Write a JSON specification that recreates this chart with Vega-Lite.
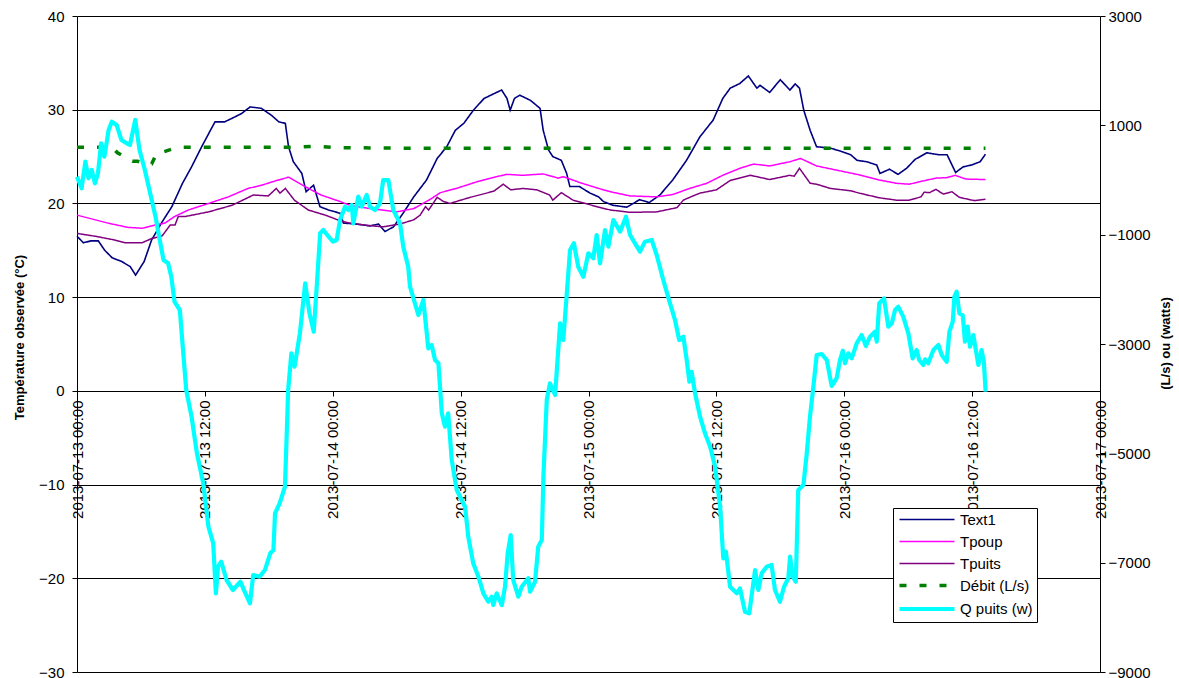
{
"$schema": "https://vega.github.io/schema/vega-lite/v6.json",
"width": 1023, "height": 656,
"autosize": {"type": "none"},
"padding": {"left": 77, "top": 16, "right": 79, "bottom": 6},
"background": "white",
"config": {"view": {"stroke": null}, "font": "Liberation Sans",
  "axis": {"labelFont": "Liberation Sans", "titleFont": "Liberation Sans", "labelColor": "#000", "titleColor": "#000", "domainColor": "#000", "tickColor": "#000", "labelFontSize": 15, "titleFontSize": 13, "titleFontWeight": "bold", "tickSize": 5},
  "legend": {"labelFont": "Liberation Sans", "labelFontSize": 15, "labelColor": "#000"}},
"datasets": {
"temp": [
{"t":"2013-07-13T00:00","s":"Text1","v":16.5},{"t":"2013-07-13T00:36","s":"Text1","v":15.8},{"t":"2013-07-13T01:18","s":"Text1","v":16.0},{"t":"2013-07-13T02:00","s":"Text1","v":16.0},{"t":"2013-07-13T02:36","s":"Text1","v":15.0},{"t":"2013-07-13T03:18","s":"Text1","v":14.2},{"t":"2013-07-13T04:12","s":"Text1","v":13.8},{"t":"2013-07-13T05:00","s":"Text1","v":13.25},{"t":"2013-07-13T05:30","s":"Text1","v":12.35},{"t":"2013-07-13T06:18","s":"Text1","v":13.8},{"t":"2013-07-13T07:00","s":"Text1","v":16.1},{"t":"2013-07-13T08:00","s":"Text1","v":18.05},{"t":"2013-07-13T08:54","s":"Text1","v":19.65},{"t":"2013-07-13T09:54","s":"Text1","v":22.15},{"t":"2013-07-13T10:45","s":"Text1","v":23.9},{"t":"2013-07-13T11:42","s":"Text1","v":26.05},{"t":"2013-07-13T12:27","s":"Text1","v":27.65},{"t":"2013-07-13T12:57","s":"Text1","v":28.7},{"t":"2013-07-13T13:51","s":"Text1","v":28.7},{"t":"2013-07-13T14:51","s":"Text1","v":29.25},{"t":"2013-07-13T15:27","s":"Text1","v":29.6},{"t":"2013-07-13T16:15","s":"Text1","v":30.3},{"t":"2013-07-13T17:18","s":"Text1","v":30.15},{"t":"2013-07-13T18:15","s":"Text1","v":29.4},{"t":"2013-07-13T18:57","s":"Text1","v":28.7},{"t":"2013-07-13T19:33","s":"Text1","v":28.55},{"t":"2013-07-13T19:51","s":"Text1","v":26.05},{"t":"2013-07-13T20:18","s":"Text1","v":24.45},{"t":"2013-07-13T21:06","s":"Text1","v":23.2},{"t":"2013-07-13T21:30","s":"Text1","v":21.25},{"t":"2013-07-13T22:12","s":"Text1","v":21.95},{"t":"2013-07-13T22:48","s":"Text1","v":19.65},{"t":"2013-07-13T23:36","s":"Text1","v":19.3},{"t":"2013-07-14T00:42","s":"Text1","v":18.95},{"t":"2013-07-14T01:00","s":"Text1","v":17.9},{"t":"2013-07-14T02:12","s":"Text1","v":17.8},{"t":"2013-07-14T03:30","s":"Text1","v":17.6},{"t":"2013-07-14T04:18","s":"Text1","v":17.8},{"t":"2013-07-14T04:54","s":"Text1","v":17.0},{"t":"2013-07-14T05:42","s":"Text1","v":17.5},{"t":"2013-07-14T06:36","s":"Text1","v":18.95},{"t":"2013-07-14T07:36","s":"Text1","v":20.7},{"t":"2013-07-14T08:48","s":"Text1","v":22.5},{"t":"2013-07-14T09:48","s":"Text1","v":24.8},{"t":"2013-07-14T10:42","s":"Text1","v":26.05},{"t":"2013-07-14T11:30","s":"Text1","v":27.8},{"t":"2013-07-14T12:18","s":"Text1","v":28.55},{"t":"2013-07-14T13:12","s":"Text1","v":29.95},{"t":"2013-07-14T14:12","s":"Text1","v":31.2},{"t":"2013-07-14T15:06","s":"Text1","v":31.7},{"t":"2013-07-14T15:51","s":"Text1","v":32.1},{"t":"2013-07-14T16:21","s":"Text1","v":31.2},{"t":"2013-07-14T16:39","s":"Text1","v":29.95},{"t":"2013-07-14T17:03","s":"Text1","v":31.2},{"t":"2013-07-14T17:33","s":"Text1","v":31.55},{"t":"2013-07-14T18:33","s":"Text1","v":31.0},{"t":"2013-07-14T19:27","s":"Text1","v":30.15},{"t":"2013-07-14T19:45","s":"Text1","v":27.8},{"t":"2013-07-14T20:15","s":"Text1","v":25.7},{"t":"2013-07-14T20:39","s":"Text1","v":25.0},{"t":"2013-07-14T21:27","s":"Text1","v":24.6},{"t":"2013-07-14T21:57","s":"Text1","v":23.2},{"t":"2013-07-14T22:15","s":"Text1","v":21.8},{"t":"2013-07-14T23:09","s":"Text1","v":21.8},{"t":"2013-07-15T00:09","s":"Text1","v":21.1},{"t":"2013-07-15T00:57","s":"Text1","v":20.7},{"t":"2013-07-15T01:24","s":"Text1","v":20.2},{"t":"2013-07-15T02:18","s":"Text1","v":19.8},{"t":"2013-07-15T03:36","s":"Text1","v":19.6},{"t":"2013-07-15T04:48","s":"Text1","v":20.4},{"t":"2013-07-15T05:42","s":"Text1","v":20.1},{"t":"2013-07-15T06:42","s":"Text1","v":20.9},{"t":"2013-07-15T07:54","s":"Text1","v":22.5},{"t":"2013-07-15T09:12","s":"Text1","v":24.6},{"t":"2013-07-15T10:27","s":"Text1","v":27.1},{"t":"2013-07-15T11:42","s":"Text1","v":28.9},{"t":"2013-07-15T12:36","s":"Text1","v":31.2},{"t":"2013-07-15T13:18","s":"Text1","v":32.3},{"t":"2013-07-15T14:12","s":"Text1","v":32.8},{"t":"2013-07-15T15:00","s":"Text1","v":33.6},{"t":"2013-07-15T15:48","s":"Text1","v":32.3},{"t":"2013-07-15T16:06","s":"Text1","v":32.6},{"t":"2013-07-15T17:00","s":"Text1","v":31.85},{"t":"2013-07-15T18:00","s":"Text1","v":33.2},{"t":"2013-07-15T18:54","s":"Text1","v":32.1},{"t":"2013-07-15T19:24","s":"Text1","v":32.75},{"t":"2013-07-15T19:48","s":"Text1","v":32.3},{"t":"2013-07-15T20:12","s":"Text1","v":29.95},{"t":"2013-07-15T20:48","s":"Text1","v":27.8},{"t":"2013-07-15T21:24","s":"Text1","v":26.05},{"t":"2013-07-15T22:42","s":"Text1","v":25.9},{"t":"2013-07-15T23:36","s":"Text1","v":25.6},{"t":"2013-07-16T00:36","s":"Text1","v":25.2},{"t":"2013-07-16T01:12","s":"Text1","v":24.6},{"t":"2013-07-16T02:06","s":"Text1","v":24.45},{"t":"2013-07-16T03:03","s":"Text1","v":24.1},{"t":"2013-07-16T03:21","s":"Text1","v":23.2},{"t":"2013-07-16T04:15","s":"Text1","v":23.65},{"t":"2013-07-16T05:03","s":"Text1","v":23.1},{"t":"2013-07-16T05:51","s":"Text1","v":23.75},{"t":"2013-07-16T06:39","s":"Text1","v":24.7},{"t":"2013-07-16T07:45","s":"Text1","v":25.4},{"t":"2013-07-16T08:51","s":"Text1","v":25.2},{"t":"2013-07-16T09:39","s":"Text1","v":25.2},{"t":"2013-07-16T10:27","s":"Text1","v":23.3},{"t":"2013-07-16T11:09","s":"Text1","v":23.9},{"t":"2013-07-16T11:57","s":"Text1","v":24.1},{"t":"2013-07-16T12:45","s":"Text1","v":24.45},{"t":"2013-07-16T13:15","s":"Text1","v":25.25},
{"t":"2013-07-13T00:00","s":"Tpoup","v":18.75},{"t":"2013-07-13T02:54","s":"Tpoup","v":17.9},{"t":"2013-07-13T04:45","s":"Tpoup","v":17.45},{"t":"2013-07-13T06:06","s":"Tpoup","v":17.35},{"t":"2013-07-13T07:21","s":"Tpoup","v":17.7},{"t":"2013-07-13T08:15","s":"Tpoup","v":17.9},{"t":"2013-07-13T09:09","s":"Tpoup","v":18.6},{"t":"2013-07-13T10:27","s":"Tpoup","v":19.3},{"t":"2013-07-13T12:21","s":"Tpoup","v":20.0},{"t":"2013-07-13T14:12","s":"Tpoup","v":20.7},{"t":"2013-07-13T16:03","s":"Tpoup","v":21.6},{"t":"2013-07-13T17:21","s":"Tpoup","v":21.95},{"t":"2013-07-13T18:36","s":"Tpoup","v":22.4},{"t":"2013-07-13T19:51","s":"Tpoup","v":22.8},{"t":"2013-07-13T21:24","s":"Tpoup","v":21.8},{"t":"2013-07-13T22:54","s":"Tpoup","v":20.9},{"t":"2013-07-14T00:42","s":"Tpoup","v":20.2},{"t":"2013-07-14T01:36","s":"Tpoup","v":19.8},{"t":"2013-07-14T03:30","s":"Tpoup","v":19.45},{"t":"2013-07-14T06:00","s":"Tpoup","v":19.1},{"t":"2013-07-14T07:36","s":"Tpoup","v":19.45},{"t":"2013-07-14T09:06","s":"Tpoup","v":20.4},{"t":"2013-07-14T10:06","s":"Tpoup","v":21.15},{"t":"2013-07-14T11:36","s":"Tpoup","v":21.6},{"t":"2013-07-14T13:30","s":"Tpoup","v":22.3},{"t":"2013-07-14T15:21","s":"Tpoup","v":22.85},{"t":"2013-07-14T16:21","s":"Tpoup","v":23.1},{"t":"2013-07-14T17:51","s":"Tpoup","v":23.0},{"t":"2013-07-14T19:45","s":"Tpoup","v":23.15},{"t":"2013-07-14T21:09","s":"Tpoup","v":22.7},{"t":"2013-07-14T21:39","s":"Tpoup","v":22.85},{"t":"2013-07-14T23:15","s":"Tpoup","v":22.2},{"t":"2013-07-15T00:57","s":"Tpoup","v":21.6},{"t":"2013-07-15T02:03","s":"Tpoup","v":21.25},{"t":"2013-07-15T03:54","s":"Tpoup","v":20.8},{"t":"2013-07-15T06:24","s":"Tpoup","v":20.7},{"t":"2013-07-15T07:54","s":"Tpoup","v":20.95},{"t":"2013-07-15T09:30","s":"Tpoup","v":21.6},{"t":"2013-07-15T11:06","s":"Tpoup","v":22.15},{"t":"2013-07-15T12:36","s":"Tpoup","v":23.0},{"t":"2013-07-15T14:12","s":"Tpoup","v":23.75},{"t":"2013-07-15T15:30","s":"Tpoup","v":24.2},{"t":"2013-07-15T17:00","s":"Tpoup","v":24.0},{"t":"2013-07-15T18:54","s":"Tpoup","v":24.45},{"t":"2013-07-15T19:54","s":"Tpoup","v":24.8},{"t":"2013-07-15T21:24","s":"Tpoup","v":24.0},{"t":"2013-07-15T23:18","s":"Tpoup","v":23.55},{"t":"2013-07-16T01:24","s":"Tpoup","v":23.05},{"t":"2013-07-16T03:18","s":"Tpoup","v":22.5},{"t":"2013-07-16T04:54","s":"Tpoup","v":22.15},{"t":"2013-07-16T06:06","s":"Tpoup","v":22.05},{"t":"2013-07-16T07:24","s":"Tpoup","v":22.4},{"t":"2013-07-16T08:36","s":"Tpoup","v":22.7},{"t":"2013-07-16T09:36","s":"Tpoup","v":22.75},{"t":"2013-07-16T10:24","s":"Tpoup","v":23.0},{"t":"2013-07-16T11:24","s":"Tpoup","v":22.6},{"t":"2013-07-16T13:15","s":"Tpoup","v":22.55},
{"t":"2013-07-13T00:00","s":"Tpuits","v":16.8},{"t":"2013-07-13T01:42","s":"Tpuits","v":16.5},{"t":"2013-07-13T03:18","s":"Tpuits","v":16.15},{"t":"2013-07-13T04:30","s":"Tpuits","v":15.8},{"t":"2013-07-13T06:06","s":"Tpuits","v":15.8},{"t":"2013-07-13T07:00","s":"Tpuits","v":16.25},{"t":"2013-07-13T08:00","s":"Tpuits","v":16.55},{"t":"2013-07-13T08:45","s":"Tpuits","v":17.7},{"t":"2013-07-13T09:12","s":"Tpuits","v":17.7},{"t":"2013-07-13T09:30","s":"Tpuits","v":18.6},{"t":"2013-07-13T10:09","s":"Tpuits","v":18.6},{"t":"2013-07-13T12:21","s":"Tpuits","v":19.1},{"t":"2013-07-13T14:33","s":"Tpuits","v":19.8},{"t":"2013-07-13T16:33","s":"Tpuits","v":20.9},{"t":"2013-07-13T17:57","s":"Tpuits","v":20.8},{"t":"2013-07-13T18:42","s":"Tpuits","v":21.6},{"t":"2013-07-13T19:03","s":"Tpuits","v":21.1},{"t":"2013-07-13T19:33","s":"Tpuits","v":21.6},{"t":"2013-07-13T20:24","s":"Tpuits","v":20.35},{"t":"2013-07-13T21:42","s":"Tpuits","v":19.3},{"t":"2013-07-13T23:18","s":"Tpuits","v":18.75},{"t":"2013-07-14T00:42","s":"Tpuits","v":18.15},{"t":"2013-07-14T01:36","s":"Tpuits","v":17.9},{"t":"2013-07-14T02:54","s":"Tpuits","v":17.7},{"t":"2013-07-14T04:42","s":"Tpuits","v":17.5},{"t":"2013-07-14T06:18","s":"Tpuits","v":17.8},{"t":"2013-07-14T07:36","s":"Tpuits","v":18.25},{"t":"2013-07-14T08:12","s":"Tpuits","v":18.75},{"t":"2013-07-14T08:42","s":"Tpuits","v":19.65},{"t":"2013-07-14T09:00","s":"Tpuits","v":19.3},{"t":"2013-07-14T09:48","s":"Tpuits","v":20.65},{"t":"2013-07-14T10:24","s":"Tpuits","v":20.2},{"t":"2013-07-14T11:00","s":"Tpuits","v":20.0},{"t":"2013-07-14T12:54","s":"Tpuits","v":20.65},{"t":"2013-07-14T15:06","s":"Tpuits","v":21.3},{"t":"2013-07-14T16:00","s":"Tpuits","v":22.05},{"t":"2013-07-14T16:42","s":"Tpuits","v":21.45},{"t":"2013-07-14T17:51","s":"Tpuits","v":21.6},{"t":"2013-07-14T19:09","s":"Tpuits","v":21.45},{"t":"2013-07-14T20:21","s":"Tpuits","v":20.9},{"t":"2013-07-14T20:39","s":"Tpuits","v":20.35},{"t":"2013-07-14T21:27","s":"Tpuits","v":21.15},{"t":"2013-07-14T22:33","s":"Tpuits","v":20.35},{"t":"2013-07-14T23:51","s":"Tpuits","v":19.95},{"t":"2013-07-15T00:57","s":"Tpuits","v":19.6},{"t":"2013-07-15T02:03","s":"Tpuits","v":19.3},{"t":"2013-07-15T03:54","s":"Tpuits","v":19.05},{"t":"2013-07-15T06:24","s":"Tpuits","v":19.1},{"t":"2013-07-15T08:18","s":"Tpuits","v":19.55},{"t":"2013-07-15T08:54","s":"Tpuits","v":20.35},{"t":"2013-07-15T09:30","s":"Tpuits","v":20.65},{"t":"2013-07-15T10:27","s":"Tpuits","v":21.1},{"t":"2013-07-15T12:00","s":"Tpuits","v":21.45},{"t":"2013-07-15T13:18","s":"Tpuits","v":22.45},{"t":"2013-07-15T15:12","s":"Tpuits","v":23.0},{"t":"2013-07-15T17:00","s":"Tpuits","v":22.55},{"t":"2013-07-15T18:54","s":"Tpuits","v":23.0},{"t":"2013-07-15T19:18","s":"Tpuits","v":22.9},{"t":"2013-07-15T19:48","s":"Tpuits","v":23.75},{"t":"2013-07-15T20:48","s":"Tpuits","v":22.15},{"t":"2013-07-15T21:24","s":"Tpuits","v":22.05},{"t":"2013-07-15T22:42","s":"Tpuits","v":21.6},{"t":"2013-07-16T00:36","s":"Tpuits","v":21.35},{"t":"2013-07-16T01:24","s":"Tpuits","v":21.1},{"t":"2013-07-16T03:18","s":"Tpuits","v":20.6},{"t":"2013-07-16T04:54","s":"Tpuits","v":20.35},{"t":"2013-07-16T06:06","s":"Tpuits","v":20.35},{"t":"2013-07-16T07:12","s":"Tpuits","v":20.7},{"t":"2013-07-16T07:30","s":"Tpuits","v":21.2},{"t":"2013-07-16T08:00","s":"Tpuits","v":21.15},{"t":"2013-07-16T08:36","s":"Tpuits","v":21.5},{"t":"2013-07-16T09:18","s":"Tpuits","v":21.0},{"t":"2013-07-16T10:06","s":"Tpuits","v":21.25},{"t":"2013-07-16T10:48","s":"Tpuits","v":20.65},{"t":"2013-07-16T12:12","s":"Tpuits","v":20.3},{"t":"2013-07-16T13:15","s":"Tpuits","v":20.45},
{"t":"2013-07-13T00:00","s":"Débit (L/s)","v":26.0},{"t":"2013-07-13T03:18","s":"Débit (L/s)","v":26.0},{"t":"2013-07-13T03:48","s":"Débit (L/s)","v":25.4},{"t":"2013-07-13T05:12","s":"Débit (L/s)","v":24.5},{"t":"2013-07-13T05:42","s":"Débit (L/s)","v":24.5},{"t":"2013-07-13T06:36","s":"Débit (L/s)","v":24.1},{"t":"2013-07-13T07:00","s":"Débit (L/s)","v":24.2},{"t":"2013-07-13T07:30","s":"Débit (L/s)","v":25.4},{"t":"2013-07-13T08:06","s":"Débit (L/s)","v":25.5},{"t":"2013-07-13T09:12","s":"Débit (L/s)","v":25.9},{"t":"2013-07-13T10:00","s":"Débit (L/s)","v":26.0},{"t":"2013-07-13T15:00","s":"Débit (L/s)","v":26.0},{"t":"2013-07-13T20:00","s":"Débit (L/s)","v":26.0},{"t":"2013-07-13T22:30","s":"Débit (L/s)","v":26.1},{"t":"2013-07-14T00:30","s":"Débit (L/s)","v":25.95},{"t":"2013-07-14T06:00","s":"Débit (L/s)","v":25.9},{"t":"2013-07-14T16:00","s":"Débit (L/s)","v":25.9},{"t":"2013-07-15T02:00","s":"Débit (L/s)","v":25.9},{"t":"2013-07-15T12:00","s":"Débit (L/s)","v":25.9},{"t":"2013-07-15T22:00","s":"Débit (L/s)","v":25.9},{"t":"2013-07-16T08:00","s":"Débit (L/s)","v":25.9},{"t":"2013-07-16T13:15","s":"Débit (L/s)","v":25.9}
],
"q": [
{"t":"2013-07-13T00:00","s":"Q puits (w)","v":60},{"t":"2013-07-13T00:26","s":"Q puits (w)","v":-152},{"t":"2013-07-13T00:47","s":"Q puits (w)","v":335},{"t":"2013-07-13T01:05","s":"Q puits (w)","v":31},{"t":"2013-07-13T01:23","s":"Q puits (w)","v":183},{"t":"2013-07-13T01:41","s":"Q puits (w)","v":-60},{"t":"2013-07-13T01:58","s":"Q puits (w)","v":123},{"t":"2013-07-13T02:16","s":"Q puits (w)","v":671},{"t":"2013-07-13T02:34","s":"Q puits (w)","v":426},{"t":"2013-07-13T02:58","s":"Q puits (w)","v":915},{"t":"2013-07-13T03:16","s":"Q puits (w)","v":1067},{"t":"2013-07-13T03:43","s":"Q puits (w)","v":1006},{"t":"2013-07-13T04:10","s":"Q puits (w)","v":732},{"t":"2013-07-13T04:40","s":"Q puits (w)","v":671},{"t":"2013-07-13T04:58","s":"Q puits (w)","v":640},{"t":"2013-07-13T05:28","s":"Q puits (w)","v":1098},{"t":"2013-07-13T05:52","s":"Q puits (w)","v":549},{"t":"2013-07-13T06:22","s":"Q puits (w)","v":183},{"t":"2013-07-13T06:52","s":"Q puits (w)","v":-243},{"t":"2013-07-13T07:22","s":"Q puits (w)","v":-671},{"t":"2013-07-13T07:46","s":"Q puits (w)","v":-1097},{"t":"2013-07-13T08:07","s":"Q puits (w)","v":-1463},{"t":"2013-07-13T08:33","s":"Q puits (w)","v":-1524},{"t":"2013-07-13T08:51","s":"Q puits (w)","v":-1769},{"t":"2013-07-13T09:09","s":"Q puits (w)","v":-2226},{"t":"2013-07-13T09:39","s":"Q puits (w)","v":-2378},{"t":"2013-07-13T09:57","s":"Q puits (w)","v":-3110},{"t":"2013-07-13T10:15","s":"Q puits (w)","v":-3841},{"t":"2013-07-13T10:45","s":"Q puits (w)","v":-4329},{"t":"2013-07-13T11:15","s":"Q puits (w)","v":-4999},{"t":"2013-07-13T11:51","s":"Q puits (w)","v":-5548},{"t":"2013-07-13T12:20","s":"Q puits (w)","v":-6342},{"t":"2013-07-13T12:47","s":"Q puits (w)","v":-6646},{"t":"2013-07-13T13:02","s":"Q puits (w)","v":-7561},{"t":"2013-07-13T13:14","s":"Q puits (w)","v":-7074},{"t":"2013-07-13T13:32","s":"Q puits (w)","v":-6982},{"t":"2013-07-13T14:02","s":"Q puits (w)","v":-7317},{"t":"2013-07-13T14:38","s":"Q puits (w)","v":-7500},{"t":"2013-07-13T15:20","s":"Q puits (w)","v":-7348},{"t":"2013-07-13T15:44","s":"Q puits (w)","v":-7531},{"t":"2013-07-13T16:14","s":"Q puits (w)","v":-7744},{"t":"2013-07-13T16:32","s":"Q puits (w)","v":-7226},{"t":"2013-07-13T17:08","s":"Q puits (w)","v":-7257},{"t":"2013-07-13T17:38","s":"Q puits (w)","v":-7135},{"t":"2013-07-13T18:08","s":"Q puits (w)","v":-6829},{"t":"2013-07-13T18:26","s":"Q puits (w)","v":-6768},{"t":"2013-07-13T18:35","s":"Q puits (w)","v":-6097},{"t":"2013-07-13T19:01","s":"Q puits (w)","v":-5914},{"t":"2013-07-13T19:31","s":"Q puits (w)","v":-5610},{"t":"2013-07-13T19:49","s":"Q puits (w)","v":-3841},{"t":"2013-07-13T20:07","s":"Q puits (w)","v":-3170},{"t":"2013-07-13T20:25","s":"Q puits (w)","v":-3415},{"t":"2013-07-13T20:55","s":"Q puits (w)","v":-2805},{"t":"2013-07-13T21:25","s":"Q puits (w)","v":-1890},{"t":"2013-07-13T21:49","s":"Q puits (w)","v":-2439},{"t":"2013-07-13T22:13","s":"Q puits (w)","v":-2775},{"t":"2013-07-13T22:31","s":"Q puits (w)","v":-1890},{"t":"2013-07-13T22:49","s":"Q puits (w)","v":-975},{"t":"2013-07-13T23:07","s":"Q puits (w)","v":-915},{"t":"2013-07-13T23:37","s":"Q puits (w)","v":-1037},{"t":"2013-07-14T00:01","s":"Q puits (w)","v":-1128},{"t":"2013-07-14T00:22","s":"Q puits (w)","v":-1097},{"t":"2013-07-14T00:41","s":"Q puits (w)","v":-732},{"t":"2013-07-14T01:09","s":"Q puits (w)","v":-488},{"t":"2013-07-14T01:28","s":"Q puits (w)","v":-549},{"t":"2013-07-14T01:47","s":"Q puits (w)","v":-457},{"t":"2013-07-14T01:56","s":"Q puits (w)","v":-793},{"t":"2013-07-14T02:24","s":"Q puits (w)","v":-305},{"t":"2013-07-14T02:43","s":"Q puits (w)","v":-488},{"t":"2013-07-14T03:11","s":"Q puits (w)","v":-274},{"t":"2013-07-14T03:30","s":"Q puits (w)","v":-488},{"t":"2013-07-14T03:58","s":"Q puits (w)","v":-549},{"t":"2013-07-14T04:26","s":"Q puits (w)","v":-427},{"t":"2013-07-14T04:44","s":"Q puits (w)","v":0},{"t":"2013-07-14T05:13","s":"Q puits (w)","v":0},{"t":"2013-07-14T05:41","s":"Q puits (w)","v":-549},{"t":"2013-07-14T06:19","s":"Q puits (w)","v":-793},{"t":"2013-07-14T06:37","s":"Q puits (w)","v":-1220},{"t":"2013-07-14T07:05","s":"Q puits (w)","v":-1586},{"t":"2013-07-14T07:15","s":"Q puits (w)","v":-1952},{"t":"2013-07-14T08:02","s":"Q puits (w)","v":-2470},{"t":"2013-07-14T08:30","s":"Q puits (w)","v":-2195},{"t":"2013-07-14T08:58","s":"Q puits (w)","v":-3079},{"t":"2013-07-14T09:17","s":"Q puits (w)","v":-3018},{"t":"2013-07-14T09:36","s":"Q puits (w)","v":-3293},{"t":"2013-07-14T09:55","s":"Q puits (w)","v":-3353},{"t":"2013-07-14T10:14","s":"Q puits (w)","v":-4268},{"t":"2013-07-14T10:32","s":"Q puits (w)","v":-4513},{"t":"2013-07-14T10:50","s":"Q puits (w)","v":-4268},{"t":"2013-07-14T11:10","s":"Q puits (w)","v":-5122},{"t":"2013-07-14T11:38","s":"Q puits (w)","v":-5671},{"t":"2013-07-14T12:25","s":"Q puits (w)","v":-5976},{"t":"2013-07-14T12:43","s":"Q puits (w)","v":-6525},{"t":"2013-07-14T13:11","s":"Q puits (w)","v":-7012},{"t":"2013-07-14T13:40","s":"Q puits (w)","v":-7257},{"t":"2013-07-14T14:08","s":"Q puits (w)","v":-7561},{"t":"2013-07-14T14:36","s":"Q puits (w)","v":-7714},{"t":"2013-07-14T14:55","s":"Q puits (w)","v":-7622},{"t":"2013-07-14T15:04","s":"Q puits (w)","v":-7775},{"t":"2013-07-14T15:23","s":"Q puits (w)","v":-7561},{"t":"2013-07-14T15:52","s":"Q puits (w)","v":-7775},{"t":"2013-07-14T16:10","s":"Q puits (w)","v":-7440},{"t":"2013-07-14T16:25","s":"Q puits (w)","v":-6829},{"t":"2013-07-14T16:42","s":"Q puits (w)","v":-6494},{"t":"2013-07-14T16:56","s":"Q puits (w)","v":-7317},{"t":"2013-07-14T17:25","s":"Q puits (w)","v":-7622},{"t":"2013-07-14T17:44","s":"Q puits (w)","v":-7440},{"t":"2013-07-14T18:21","s":"Q puits (w)","v":-7286},{"t":"2013-07-14T18:31","s":"Q puits (w)","v":-7531},{"t":"2013-07-14T18:59","s":"Q puits (w)","v":-7348},{"t":"2013-07-14T19:17","s":"Q puits (w)","v":-6708},{"t":"2013-07-14T19:37","s":"Q puits (w)","v":-6585},{"t":"2013-07-14T19:46","s":"Q puits (w)","v":-5427},{"t":"2013-07-14T20:05","s":"Q puits (w)","v":-4024},{"t":"2013-07-14T20:23","s":"Q puits (w)","v":-3719},{"t":"2013-07-14T20:52","s":"Q puits (w)","v":-3933},{"t":"2013-07-14T21:20","s":"Q puits (w)","v":-2622},{"t":"2013-07-14T21:38","s":"Q puits (w)","v":-2927},{"t":"2013-07-14T21:58","s":"Q puits (w)","v":-2073},{"t":"2013-07-14T22:16","s":"Q puits (w)","v":-1281},{"t":"2013-07-14T22:38","s":"Q puits (w)","v":-1158},{"t":"2013-07-14T23:02","s":"Q puits (w)","v":-1586},{"t":"2013-07-14T23:31","s":"Q puits (w)","v":-1769},{"t":"2013-07-14T23:59","s":"Q puits (w)","v":-1341},{"t":"2013-07-15T00:27","s":"Q puits (w)","v":-1433},{"t":"2013-07-15T00:46","s":"Q puits (w)","v":-1006},{"t":"2013-07-15T01:05","s":"Q puits (w)","v":-1524},{"t":"2013-07-15T01:33","s":"Q puits (w)","v":-915},{"t":"2013-07-15T01:52","s":"Q puits (w)","v":-1220},{"t":"2013-07-15T02:20","s":"Q puits (w)","v":-732},{"t":"2013-07-15T02:58","s":"Q puits (w)","v":-945},{"t":"2013-07-15T03:31","s":"Q puits (w)","v":-671},{"t":"2013-07-15T03:54","s":"Q puits (w)","v":-1006},{"t":"2013-07-15T04:22","s":"Q puits (w)","v":-1158},{"t":"2013-07-15T04:50","s":"Q puits (w)","v":-1311},{"t":"2013-07-15T05:18","s":"Q puits (w)","v":-1128},{"t":"2013-07-15T05:56","s":"Q puits (w)","v":-1097},{"t":"2013-07-15T06:24","s":"Q puits (w)","v":-1372},{"t":"2013-07-15T07:01","s":"Q puits (w)","v":-1829},{"t":"2013-07-15T07:39","s":"Q puits (w)","v":-2256},{"t":"2013-07-15T08:07","s":"Q puits (w)","v":-2561},{"t":"2013-07-15T08:31","s":"Q puits (w)","v":-2927},{"t":"2013-07-15T08:54","s":"Q puits (w)","v":-2866},{"t":"2013-07-15T09:13","s":"Q puits (w)","v":-3293},{"t":"2013-07-15T09:28","s":"Q puits (w)","v":-3690},{"t":"2013-07-15T09:41","s":"Q puits (w)","v":-3507},{"t":"2013-07-15T10:00","s":"Q puits (w)","v":-3902},{"t":"2013-07-15T10:28","s":"Q puits (w)","v":-4329},{"t":"2013-07-15T10:56","s":"Q puits (w)","v":-4634},{"t":"2013-07-15T11:25","s":"Q puits (w)","v":-4878},{"t":"2013-07-15T11:53","s":"Q puits (w)","v":-5244},{"t":"2013-07-15T12:21","s":"Q puits (w)","v":-5976},{"t":"2013-07-15T12:39","s":"Q puits (w)","v":-6921},{"t":"2013-07-15T12:54","s":"Q puits (w)","v":-6799},{"t":"2013-07-15T13:17","s":"Q puits (w)","v":-7440},{"t":"2013-07-15T13:55","s":"Q puits (w)","v":-7561},{"t":"2013-07-15T14:13","s":"Q puits (w)","v":-7470},{"t":"2013-07-15T14:41","s":"Q puits (w)","v":-7897},{"t":"2013-07-15T15:05","s":"Q puits (w)","v":-7927},{"t":"2013-07-15T15:19","s":"Q puits (w)","v":-7592},{"t":"2013-07-15T15:38","s":"Q puits (w)","v":-7135},{"t":"2013-07-15T15:56","s":"Q puits (w)","v":-7500},{"t":"2013-07-15T16:15","s":"Q puits (w)","v":-7195},{"t":"2013-07-15T16:43","s":"Q puits (w)","v":-7074},{"t":"2013-07-15T17:11","s":"Q puits (w)","v":-7043},{"t":"2013-07-15T17:30","s":"Q puits (w)","v":-7500},{"t":"2013-07-15T17:58","s":"Q puits (w)","v":-7714},{"t":"2013-07-15T18:21","s":"Q puits (w)","v":-7440},{"t":"2013-07-15T18:45","s":"Q puits (w)","v":-7286},{"t":"2013-07-15T18:55","s":"Q puits (w)","v":-6891},{"t":"2013-07-15T19:10","s":"Q puits (w)","v":-7257},{"t":"2013-07-15T19:27","s":"Q puits (w)","v":-7348},{"t":"2013-07-15T19:41","s":"Q puits (w)","v":-5671},{"t":"2013-07-15T20:10","s":"Q puits (w)","v":-5580},{"t":"2013-07-15T20:29","s":"Q puits (w)","v":-4999},{"t":"2013-07-15T20:47","s":"Q puits (w)","v":-4329},{"t":"2013-07-15T21:06","s":"Q puits (w)","v":-3780},{"t":"2013-07-15T21:25","s":"Q puits (w)","v":-3201},{"t":"2013-07-15T21:53","s":"Q puits (w)","v":-3183},{"t":"2013-07-15T22:22","s":"Q puits (w)","v":-3293},{"t":"2013-07-15T22:49","s":"Q puits (w)","v":-3768},{"t":"2013-07-15T23:17","s":"Q puits (w)","v":-3628},{"t":"2013-07-15T23:36","s":"Q puits (w)","v":-3293},{"t":"2013-07-15T23:52","s":"Q puits (w)","v":-3122},{"t":"2013-07-16T00:04","s":"Q puits (w)","v":-3353},{"t":"2013-07-16T00:23","s":"Q puits (w)","v":-3170},{"t":"2013-07-16T00:42","s":"Q puits (w)","v":-3262},{"t":"2013-07-16T01:10","s":"Q puits (w)","v":-2988},{"t":"2013-07-16T01:38","s":"Q puits (w)","v":-2836},{"t":"2013-07-16T02:02","s":"Q puits (w)","v":-3037},{"t":"2013-07-16T02:25","s":"Q puits (w)","v":-2866},{"t":"2013-07-16T02:53","s":"Q puits (w)","v":-2775},{"t":"2013-07-16T03:03","s":"Q puits (w)","v":-2958},{"t":"2013-07-16T03:17","s":"Q puits (w)","v":-2256},{"t":"2013-07-16T03:44","s":"Q puits (w)","v":-2165},{"t":"2013-07-16T04:08","s":"Q puits (w)","v":-2683},{"t":"2013-07-16T04:28","s":"Q puits (w)","v":-2622},{"t":"2013-07-16T04:46","s":"Q puits (w)","v":-2378},{"t":"2013-07-16T05:04","s":"Q puits (w)","v":-2317},{"t":"2013-07-16T05:32","s":"Q puits (w)","v":-2500},{"t":"2013-07-16T06:01","s":"Q puits (w)","v":-2805},{"t":"2013-07-16T06:25","s":"Q puits (w)","v":-3262},{"t":"2013-07-16T06:48","s":"Q puits (w)","v":-3110},{"t":"2013-07-16T07:02","s":"Q puits (w)","v":-3293},{"t":"2013-07-16T07:25","s":"Q puits (w)","v":-3384},{"t":"2013-07-16T07:35","s":"Q puits (w)","v":-3280},{"t":"2013-07-16T07:53","s":"Q puits (w)","v":-3353},{"t":"2013-07-16T08:22","s":"Q puits (w)","v":-3110},{"t":"2013-07-16T08:50","s":"Q puits (w)","v":-3018},{"t":"2013-07-16T09:09","s":"Q puits (w)","v":-3201},{"t":"2013-07-16T09:37","s":"Q puits (w)","v":-3324},{"t":"2013-07-16T09:52","s":"Q puits (w)","v":-2775},{"t":"2013-07-16T10:11","s":"Q puits (w)","v":-2592},{"t":"2013-07-16T10:20","s":"Q puits (w)","v":-2135},{"t":"2013-07-16T10:33","s":"Q puits (w)","v":-2043},{"t":"2013-07-16T10:48","s":"Q puits (w)","v":-2439},{"t":"2013-07-16T11:07","s":"Q puits (w)","v":-2470},{"t":"2013-07-16T11:20","s":"Q puits (w)","v":-2958},{"t":"2013-07-16T11:35","s":"Q puits (w)","v":-2683},{"t":"2013-07-16T11:48","s":"Q puits (w)","v":-3050},{"t":"2013-07-16T12:07","s":"Q puits (w)","v":-2836},{"t":"2013-07-16T12:35","s":"Q puits (w)","v":-3384},{"t":"2013-07-16T12:53","s":"Q puits (w)","v":-3110},{"t":"2013-07-16T13:06","s":"Q puits (w)","v":-3324},{"t":"2013-07-16T13:16","s":"Q puits (w)","v":-3872}
]
},
"encoding": {
  "x": {"field": "t", "type": "temporal",
    "scale": {"domain": [{"year": 2013, "month": 7, "date": 13, "hours": 0}, {"year": 2013, "month": 7, "date": 17, "hours": 0}]},
    "axis": {"title": null, "format": "%Y-%m-%d %H:%M", "labelAngle": -90, "offset": -281, "domain": false, "grid": false, "labelPadding": 4, "labelOverlap": false, "labelFlush": false, "labelBound": false,
      "values": [{"year": 2013, "month": 7, "date": 13, "hours": 0}, {"year": 2013, "month": 7, "date": 13, "hours": 12}, {"year": 2013, "month": 7, "date": 14, "hours": 0}, {"year": 2013, "month": 7, "date": 14, "hours": 12}, {"year": 2013, "month": 7, "date": 15, "hours": 0}, {"year": 2013, "month": 7, "date": 15, "hours": 12}, {"year": 2013, "month": 7, "date": 16, "hours": 0}, {"year": 2013, "month": 7, "date": 16, "hours": 12}, {"year": 2013, "month": 7, "date": 17, "hours": 0}]}}
},
"layer": [
  {"data": {"name": "temp"},
   "mark": {"type": "line", "strokeCap": "butt"},
   "encoding": {
     "y": {"field": "v", "type": "quantitative", "scale": {"domain": [-30, 40], "nice": false, "zero": false},
       "axis": {"orient": "left", "values": [-30, -20, -10, 0, 10, 20, 30, 40], "grid": true, "gridColor": "#000", "gridWidth": 1, "gridOpacity": 1, "labelPadding": 8, "title": "Température observée (°C)", "titleAngle": -90, "titleX": -58, "titleY": 321, "titleAlign": "center", "titleBaseline": "middle"}},
     "color": {"field": "s", "type": "nominal", "scale": {"domain": ["Text1", "Tpoup", "Tpuits", "Débit (L/s)", "Q puits (w)"], "range": ["#000080", "#FF00FF", "#800080", "#008000", "#00FFFF"]},
       "legend": {"title": null, "orient": "none", "legendX": 816, "legendY": 492, "symbolType": "M-1,0H9", "symbolSize": 121, "labelOffset": 47, "strokeColor": "#000", "fillColor": "#fff", "padding": 4, "cornerRadius": 0, "rowPadding": 6}},
     "strokeDash": {"field": "s", "type": "nominal", "scale": {"domain": ["Text1", "Tpoup", "Tpuits", "Débit (L/s)", "Q puits (w)"], "range": [[1, 0], [1, 0], [1, 0], [7, 13], [1, 0]]}},
     "strokeWidth": {"field": "s", "type": "nominal", "scale": {"type": "ordinal", "domain": ["Text1", "Tpoup", "Tpuits", "Débit (L/s)", "Q puits (w)"], "range": [1.6, 1.5, 1.5, 3.5, 4.2]}}
   }},
  {"data": {"name": "q"},
   "mark": {"type": "line", "strokeJoin": "round", "strokeWidth": 4.2},
   "encoding": {
     "y": {"field": "v", "type": "quantitative", "scale": {"domain": [-9000, 3000], "nice": false, "zero": false},
       "axis": {"orient": "right", "format": "d", "values": [-9000, -7000, -5000, -3000, -1000, 1000, 3000], "grid": false, "labelPadding": 3, "title": "(L/s) ou (watts)", "titleAngle": -90, "titleX": 65, "titleY": 327, "titleAlign": "center", "titleBaseline": "middle"}},
     "color": {"field": "s", "type": "nominal"}
   }}
],
"resolve": {"scale": {"y": "independent"}}
}
